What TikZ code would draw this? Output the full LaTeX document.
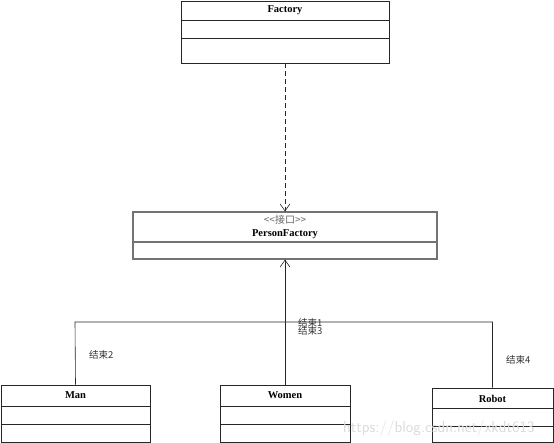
\documentclass[tikz,border=0pt]{standalone}
\usepackage{fontspec}
\setmainfont{Liberation Serif}
\newfontfamily\cjk{Noto Sans CJK SC}
\usetikzlibrary{arrows.meta}
\tikzset{
  classbox/.style={draw=black!85, line width=0.9pt, inner sep=0pt, fill=white},
  title/.style={font=\fontsize{10.5}{12}\selectfont\bfseries, inner sep=0pt},
  stereo/.style={font=\fontsize{10}{11}\selectfont\cjk, text=black!60, inner sep=0pt},
  lbl/.style={font=\fontsize{9.5}{11}\selectfont\cjk, text=black!80, inner sep=0pt, anchor=west},
  conn/.style={draw=black!85, line width=0.6pt},
  open/.style={-{Straight Barb[length=7pt,width=10pt]}},
}
\begin{document}
\begin{tikzpicture}[x=1pt,y=-1pt]
\useasboundingbox (0,0) rectangle (554,443);
% Factory
\node[classbox, minimum width=208pt, minimum height=62pt] (factory) at (285,32) {};
\draw[black!85, line width=0.9pt] (181,20) -- (389,20) (181,38) -- (389,38);
\node[title] (tfactory) at (285,10.5) {Factory};
% PersonFactory
\node[classbox, draw=black!55, line width=1.2pt, minimum width=304pt, minimum height=47pt] (pf) at (285,235.5) {};
\draw[black!55, line width=1.2pt] (133,242) -- (437,242);
\node[stereo] (stpf) at (285,219.5) {<<接口>>};
\node[title] (tpf) at (285,234) {PersonFactory};
% Man
\node[classbox, minimum width=149pt, minimum height=57pt] (man) at (75.5,413.5) {};
\draw[black!85, line width=0.9pt] (1,406) -- (150,406) (1,424) -- (150,424);
\node[title] (tman) at (75.5,395) {Man};
% Women
\node[classbox, minimum width=130pt, minimum height=57pt] (women) at (285,413.5) {};
\draw[black!85, line width=0.9pt] (220,406) -- (350,406) (220,424) -- (350,424);
\node[title] (twomen) at (285,395) {Women};
% Robot
\node[classbox, minimum width=121pt, minimum height=54pt] (robot) at (492.5,415) {};
\draw[black!85, line width=0.9pt] (432,408) -- (553,408) (432,426) -- (553,426);
\node[title] (trobot) at (492.5,398.5) {Robot};
% dependency
\draw[conn, dashed, dash pattern=on 5pt off 3pt, open] (factory.south) -- (pf.north);
% inheritance tree
\coordinate (jm) at (75,322);
\coordinate (jw) at (285,322);
\coordinate (jr) at (492.5,322);
\draw[conn] (man.north) -- (jm) -- (jr) -- (robot.north);
\draw[conn] (women.north) -- (jw);
\draw[conn, open] (jw) -- (pf.south);
% labels
\node[lbl] (l1) at (298,323) {结束1};
\node[lbl] (l3) at (298,331) {结束3};
\node[lbl] (l2) at (89,355) {结束2};
\node[lbl] (l4) at (506,360) {结束4};
% watermark
\node[font=\fontsize{16}{18}\selectfont\sffamily, text=black!14, inner sep=0pt, anchor=west] (wm) at (343,428) {https://blog.csdn.net/xkdt613};
\end{tikzpicture}
\end{document}
